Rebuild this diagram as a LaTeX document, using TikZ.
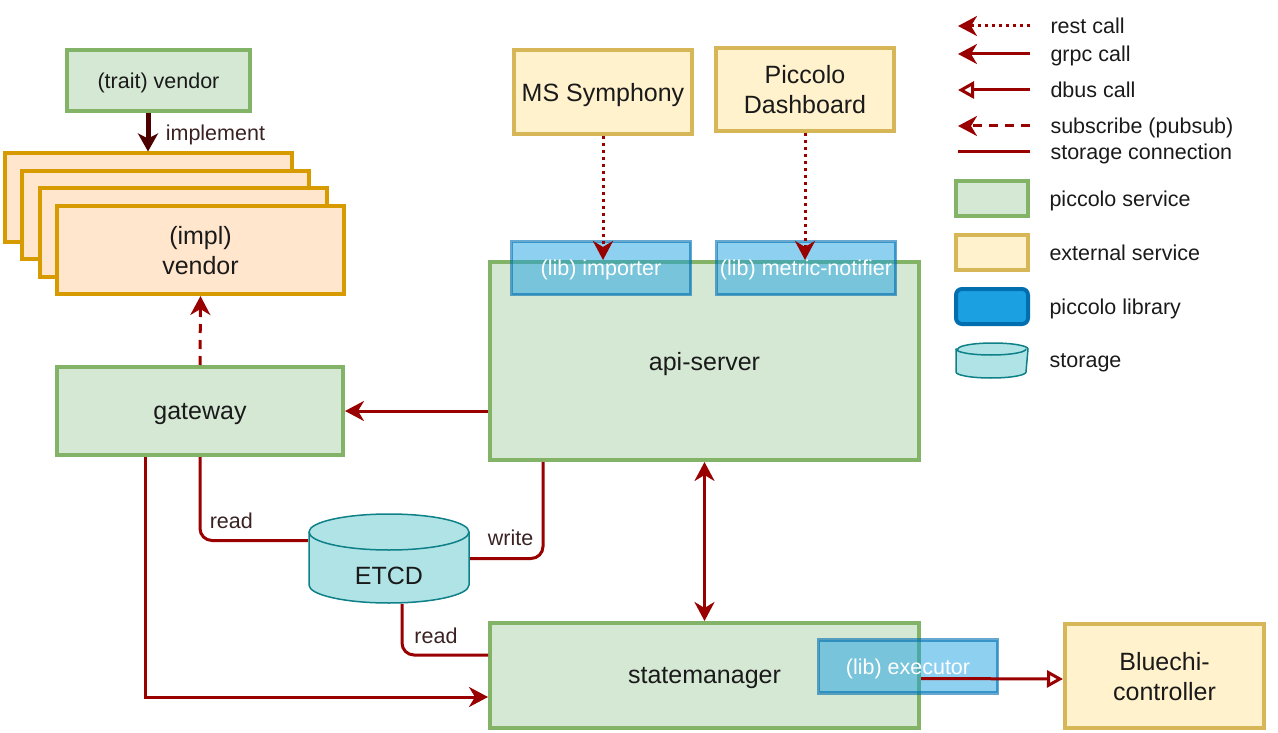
\documentclass[tikz,border=0pt]{standalone}
\usepackage{fontspec}
\setmainfont{Liberation Sans}
\usetikzlibrary{positioning, arrows.meta}

\definecolor{svcfill}{HTML}{D5E8D4}
\definecolor{svcdraw}{HTML}{82B366}
\definecolor{extfill}{HTML}{FFF2CC}
\definecolor{extdraw}{HTML}{D6B656}
\definecolor{implfill}{HTML}{FFE6CC}
\definecolor{impldraw}{HTML}{D79B00}
\definecolor{libfill}{HTML}{1BA1E2}
\definecolor{libdraw}{HTML}{006EAF}
\definecolor{dbfill}{HTML}{B0E3E6}
\definecolor{dbdraw}{HTML}{0E8088}
\definecolor{wire}{HTML}{990000}
\definecolor{implarrow}{HTML}{4C0000}
\definecolor{txt}{HTML}{1A1A1A}
\definecolor{lbl}{HTML}{3A2222}

\begin{document}
\begin{tikzpicture}[x=1pt, y=-1pt,
    >={Stealth[length=19pt, width=20pt, inset=6pt]},
    big/.style={font=\fontsize{25}{30}\selectfont, text=txt, align=center, text depth=0pt},
    small/.style={font=\fontsize{21.5}{26}\selectfont, text=txt, text depth=0pt},
    box/.style={rectangle, line width=4pt, inner sep=0pt},
    svc/.style={box, big, draw=svcdraw, fill=svcfill},
    ext/.style={box, big, draw=extdraw, fill=extfill},
    implbox/.style={box, big, draw=impldraw, fill=implfill, minimum width=287, minimum height=88},
    lib/.style={box, small, line width=3.5pt, draw=libdraw, fill=libfill, draw opacity=0.6, fill opacity=0.5, text opacity=1, text=white, minimum width=179, minimum height=53},
    db/.style 2 args={rectangle, inner sep=0pt, path picture={
        \draw[dbdraw, fill=dbfill, line width=1.5pt]
            ([xshift=1pt, yshift=-#2-1pt]path picture bounding box.north west)
            -- ([xshift=1pt, yshift=#2+1pt]path picture bounding box.south west)
            arc[start angle=180, end angle=360, x radius=#1, y radius=#2]
            -- ([xshift=-1pt, yshift=-#2-1pt]path picture bounding box.north east)
            arc[start angle=0, end angle=180, x radius=#1, y radius=#2] -- cycle;
        \draw[dbdraw, line width=1.5pt]
            ([xshift=1pt, yshift=-#2-1pt]path picture bounding box.north west)
            arc[start angle=180, end angle=360, x radius=#1, y radius=#2];
    }},
    wirelbl/.style={small, text=lbl},
    grpc/.style={wire, line width=3pt, ->},
    rest/.style={grpc, dash pattern=on 3pt off 4pt},
    subs/.style={grpc, dash pattern=on 9pt off 7pt},
    dbus/.style={wire, line width=3pt, -{Triangle[open, length=16pt, width=17pt]}},
    store/.style={wire, line width=3pt, rounded corners=12pt}]

    \useasboundingbox (0,0) rectangle (1278,733);

    \node[svc, small, minimum width=183, minimum height=61] (trait) at (158.5,80.5) {(trait) vendor};
    \foreach \i/\cx/\cy in {3/148/197.5, 2/165.5/215, 1/183/232.5}
        \node[implbox] (impl\i) at (\cx,\cy) {};
    \node[implbox] (vendor) at (200.5,250) {(impl)\\vendor};

    \node[svc, minimum width=286, minimum height=88] (gateway) at (200,411) {gateway};
    \node[svc, minimum width=429, minimum height=198] (api) at (704.5,361) {api-server};
    \node[svc, minimum width=429, minimum height=105] (state) at (704.5,675.5) {statemanager};
    \node[ext, minimum width=178, minimum height=84] (symphony) at (603,92) {MS Symphony};
    \node[ext, minimum width=178, minimum height=83] (dashboard) at (805,89.5) {Piccolo\\Dashboard};
    \node[ext, minimum width=199, minimum height=104] (bluechi) at (1164.5,676) {Bluechi-\\controller};

    \node[lib] (importer) at (601,268) {(lib) importer};
    \node[lib] (notifier) at (806,268) {(lib) metric-notifier};
    \node[lib] (executor) at (908,666.5) {(lib) executor};

    \node[db={80pt}{18pt}, minimum width=162, minimum height=91, label={[big, yshift=-17pt]center:ETCD}] (etcd) at (389,558.5) {};

    \draw[implarrow, line width=5pt, -{Stealth[length=18pt, width=20pt, inset=5pt]}] (impl3.north |- trait.south) -- (impl3.north)
        node[wirelbl, midway, right=12pt, yshift=0pt] {implement};
    \draw[subs] (gateway.north) -- (vendor.south);
    \draw[rest] (symphony.south) -- (symphony.south |- api.north);
    \draw[rest] (dashboard.south) -- (dashboard.south |- api.north);
    \draw[grpc] (api.west |- gateway.east) -- (gateway.east);
    \draw[grpc, <->] (api.south) -- (state.north);
    \draw[grpc] ([xshift=90pt]gateway.south west) |- ([yshift=-21.5pt]state.west);
    \draw[dbus] ([yshift=-3pt]state.east) -- ([yshift=-3pt]bluechi.west);

    \draw[store] (gateway.south) |- ([yshift=18pt]etcd.west) node[wirelbl, pos=0.5, above right=7pt and 5pt] {read};
    \draw[store] ([xshift=55pt]api.south west) |- (etcd.east) node[wirelbl, pos=0.75, above=8pt, xshift=4pt] {write};
    \draw[store] ([xshift=13pt]etcd.south) |- ([yshift=20.5pt]state.west) node[wirelbl, pos=0.75, above=7pt, xshift=-9pt] {read};

    \node[small, anchor=west] (lrest) at (1047,26) {rest call};
    \node[small, anchor=west] (lgrpc) at (1047,54) {grpc call};
    \node[small, anchor=west] (ldbus) at (1047,90) {dbus call};
    \node[small, anchor=west] (lsubs) at (1047,126) {subscribe (pubsub)};
    \node[small, anchor=west] (lstore) at (1047,152) {storage connection};
    \draw[rest] ([xshift=-17pt]lrest.west) -- ++(-72,0);
    \draw[grpc] ([xshift=-17pt]lgrpc.west) -- ++(-72,0);
    \draw[dbus] ([xshift=-17pt]ldbus.west) -- ++(-72,0);
    \draw[subs] ([xshift=-17pt]lsubs.west) -- ++(-72,0);
    \draw[wire, line width=3pt] ([xshift=-17pt]lstore.west) -- ++(-72,0);

    \node[svc, minimum width=72, minimum height=35] (lsvc) at (992,198.5) {};
    \node[small, right=16pt of lsvc] {piccolo service};
    \node[ext, minimum width=72, minimum height=35] (lext) at (992,252.5) {};
    \node[small, right=16pt of lext] {external service};
    \node[box, draw=libdraw, fill=libfill, rounded corners=6pt, minimum width=72, minimum height=35] (llib) at (992,306.5) {};
    \node[small, right=16pt of llib] {piccolo library};
    \node[db={35pt}{6pt}, minimum width=74, minimum height=37] (ldb) at (992,360.5) {};
    \node[small, right=17pt of ldb] {storage};
\end{tikzpicture}
\end{document}
